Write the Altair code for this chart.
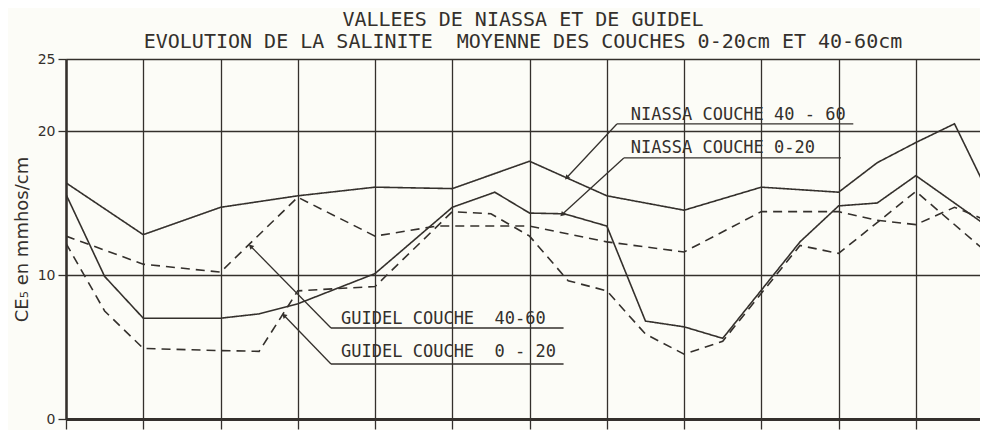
import altair as alt
import pandas as pd

# ---- data (x = month-gridline index, y = CE5 mmhos/cm) ----
title_lines = ["VALLEES DE NIASSA ET DE GUIDEL",
               "EVOLUTION DE LA SALINITE\u00a0 MOYENNE DES COUCHES 0-20cm ET 40-60cm"]
y_title = "CE₅ en mmhos/cm"
y_ticks = [0, 10, 20, 25]
x_ticks = [0, 1, 2, 3, 4, 5, 6, 7, 8, 9, 10, 11]

series_names = ["NIASSA 40-60", "NIASSA 0-20", "GUIDEL 40-60", "GUIDEL 0-20"]

niassa_4060_x = [0, 1, 2, 3, 4, 5, 6, 7, 8, 9, 10, 10.5, 11, 11.5, 12]
niassa_4060_y = [16.4, 12.8, 14.7, 15.5, 16.1, 16.0, 17.9, 15.5, 14.5, 16.1, 15.75, 17.8, 19.2, 20.5, 15.0]

niassa_020_x = [0, 0.5, 1, 2, 2.5, 3, 4, 5, 5.55, 6, 6.45, 7, 7.5, 8, 8.5, 9.5, 10, 10.5, 11, 12]
niassa_020_y = [15.6, 9.9, 7.0, 7.0, 7.3, 8.0, 10.1, 14.7, 15.75, 14.3, 14.25, 13.4, 6.8, 6.4, 5.6, 12.3, 14.8, 15.0, 16.9, 13.1]

guidel_4060_x = [0, 1, 2, 3, 4, 4.8, 6, 7, 8, 9, 10, 10.5, 11, 11.5, 12]
guidel_4060_y = [12.7, 10.75, 10.2, 15.4, 12.7, 13.4, 13.4, 12.3, 11.6, 14.4, 14.4, 13.8, 13.5, 14.7, 13.6]

guidel_020_x = [0, 0.5, 1, 2, 2.5, 3, 4, 5, 5.5, 6, 6.5, 7, 7.5, 8, 8.5, 9.5, 10, 11, 12]
guidel_020_y = [12.2, 7.5, 4.9, 4.75, 4.7, 8.9, 9.2, 14.4, 14.25, 12.7, 9.6, 8.9, 5.9, 4.5, 5.4, 12.05, 11.5, 15.8, 11.2]

# ---- annotations (in data units) ----
ann_labels = ["NIASSA COUCHE 40 - 60", "NIASSA COUCHE 0-20",
              "GUIDEL COUCHE\u00a0 40-60", "GUIDEL COUCHE\u00a0 0 - 20"]
ann_text_x = [7.31, 7.31, 3.56, 3.56]
ann_text_y = [20.76, 18.47, 6.6, 4.31]
ann_elbow_x = [7.13, 7.22, 3.43, 3.43]
ann_elbow_y = [20.49, 18.13, 6.32, 3.82]
ann_end_x = [10.19, 10.03, 6.44, 6.44]
ann_tip_x = [6.48, 6.42, 2.39, 2.82]
ann_tip_y = [16.75, 14.2, 12.0, 7.2]
ann_tip_angle = [223, 227, 315, 314]

# ---- build tables ----
rows = []
for name, xs_, ys_ in [(series_names[0], niassa_4060_x, niassa_4060_y),
                       (series_names[1], niassa_020_x, niassa_020_y),
                       (series_names[2], guidel_4060_x, guidel_4060_y),
                       (series_names[3], guidel_020_x, guidel_020_y)]:
    for i, (x, y) in enumerate(zip(xs_, ys_)):
        rows.append({"serie": name, "x": x, "y": y, "o": i,
                     "dash": "dashed" if name.startswith("GUIDEL") else "solid"})
df = pd.DataFrame(rows)

ann = pd.DataFrame({
    "label": ann_labels, "tx": ann_text_x, "ty": ann_text_y,
    "ex": ann_elbow_x, "ey": ann_elbow_y, "endx": ann_end_x,
    "px": ann_tip_x, "py": ann_tip_y, "ang": ann_tip_angle,
})

INK = "#34302c"
XDOM = [0, 11.83]
xs = alt.Scale(domain=XDOM, nice=False, zero=False)
ys = alt.Scale(domain=[0, 25], nice=False)

lines = alt.Chart(df).mark_line(strokeWidth=1.6, clip=True, color=INK).encode(
    x=alt.X("x:Q", scale=xs,
            axis=alt.Axis(values=x_ticks, labels=False, title=None, grid=True,
                          gridColor=INK, gridWidth=1.3, gridOpacity=1,
                          tickSize=10, tickColor=INK, tickWidth=1.3,
                          domainColor=INK, domainWidth=3)),
    y=alt.Y("y:Q", scale=ys,
            axis=alt.Axis(values=y_ticks, title=y_title, grid=True,
                          gridColor=INK, gridWidth=1.3, gridOpacity=1,
                          tickSize=8, tickColor=INK, tickWidth=1.3,
                          domainColor=INK, domainWidth=2.5,
                          labelFontSize=14, labelFont="DejaVu Sans", labelColor=INK,
                          labelPadding=3,
                          titleFont="DejaVu Sans", titleFontSize=18, titleFontWeight="normal",
                          titleColor=INK, titlePadding=6)),
    detail="serie:N",
    order="o:Q",
    strokeDash=alt.StrokeDash("dash:N",
                              scale=alt.Scale(domain=["solid", "dashed"],
                                              range=[[1, 0], [9, 6]]),
                              legend=None),
)

underline = alt.Chart(ann).mark_rule(color=INK, strokeWidth=1.3).encode(
    x=alt.X("ex:Q", scale=xs), x2="endx:Q",
    y=alt.Y("ey:Q", scale=ys), y2="ey:Q")

leader = alt.Chart(ann).mark_rule(color=INK, strokeWidth=1.3).encode(
    x=alt.X("ex:Q", scale=xs), x2="px:Q",
    y=alt.Y("ey:Q", scale=ys), y2="py:Q")

heads = alt.Chart(ann).mark_point(shape="triangle-up", filled=True, color=INK,
                                  size=30, opacity=1).encode(
    x=alt.X("px:Q", scale=xs), y=alt.Y("py:Q", scale=ys),
    angle=alt.Angle("ang:Q", scale=None))

labels = alt.Chart(ann).mark_text(align="left", baseline="alphabetic",
                                  font="DejaVu Sans Mono", fontSize=17,
                                  color=INK).encode(
    x=alt.X("tx:Q", scale=xs), y=alt.Y("ty:Q", scale=ys), text="label:N")

chart = alt.layer(lines, underline, leader, heads, labels).properties(
    width=914, height=360,
    padding={"left": 5, "top": 2, "right": 0, "bottom": 0},
    background="#fcfcf7",
    title=alt.TitleParams(text=title_lines, font="DejaVu Sans Mono", fontSize=20,
                          fontWeight="normal", color=INK, anchor="middle",
                          offset=0, lineHeight=22),
).configure_view(stroke=None)

chart.save("out.html", embed_options={"renderer": "svg", "actions": False})
